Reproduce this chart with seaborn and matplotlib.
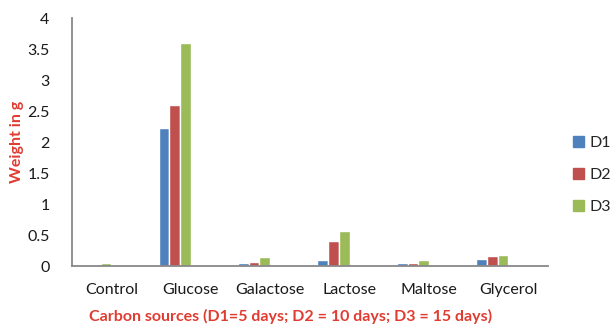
import numpy as np
import pandas as pd
import matplotlib
matplotlib.use('Agg')
import matplotlib.pyplot as plt
import seaborn as sns

sources = ['Control', 'Glucose', 'Galactose', 'Lactose', 'Maltose', 'Glycerol']
d1 = [0.01, 2.22, 0.05, 0.10, 0.05, 0.12]
d2 = [0.02, 2.60, 0.07, 0.40, 0.05, 0.16]
d3 = [0.05, 3.60, 0.14, 0.57, 0.10, 0.18]
series = ['D1', 'D2', 'D3']
colors = ['#4F81BD', '#C0504D', '#9BBB59']

# long table; three empty slots keep the Excel-style left-shifted groups
rows = []
for i, s in enumerate(sources):
    for name, vals in zip(series, [d1, d2, d3]):
        rows.append({'source': s, 'series': name, 'weight': vals[i]})
df = pd.DataFrame(rows)
slots = series + ['e1', 'e2', 'e3']

sns.set_style('white')
plt.rcParams['font.family'] = ['Lato', 'DejaVu Sans']

fig = plt.figure(figsize=(6.13, 3.24), dpi=100)
ax = fig.add_axes([0.117, 0.179, 0.777, 0.765])

pal = dict(zip(slots, colors + ['white'] * 3))
sns.barplot(data=df, x='source', y='weight', hue='series', hue_order=slots,
            order=sources, palette=pal, width=0.81, dodge=True,
            saturation=1, ax=ax, legend=False, errorbar=None)

ax.set_xlim(-0.5, len(sources) - 0.5)
ax.set_ylim(0, 4)
ax.set_yticks(np.arange(0, 4.01, 0.5))
ax.set_yticklabels(['0', '0.5', '1', '1.5', '2', '2.5', '3', '3.5', '4'])
ax.set_xticks(np.arange(-0.5, len(sources), 1), minor=False)
ax.set_xticklabels([])
ax.set_xticks(np.arange(len(sources)), minor=True)
ax.set_xticklabels(sources, minor=True)
ax.tick_params(axis='x', which='major', length=6, width=1.2, color='#888888', direction='out')
ax.tick_params(axis='x', which='minor', length=0, pad=12, labelsize=11.5)
ax.tick_params(axis='y', length=7, width=1.2, color='#888888', direction='out', labelsize=11.5, pad=9)
ax.tick_params(axis='both', which='both', labelcolor='#1a1a1a')

for side in ['top', 'right']:
    ax.spines[side].set_visible(False)
for side in ['left', 'bottom']:
    ax.spines[side].set_color('#888888')
    ax.spines[side].set_linewidth(1.3)

ax.set_xlabel('Carbon sources (D1=5 days; D2 = 10 days; D3 = 15 days)',
              fontsize=11.5, fontweight='bold', color='#E03C31')
ax.xaxis.set_label_coords(0.46, -0.175)
ax.set_ylabel('Weight in g', fontsize=11.5, fontweight='bold', color='#E03C31')
ax.yaxis.set_label_coords(-0.1, 0.5)

handles = [plt.Rectangle((0, 0), 1, 1, color=c) for c in colors]
fig.legend(handles, series, loc='center left', bbox_to_anchor=(0.935, 0.46),
           frameon=False, fontsize=11.5, handlelength=0.7, handleheight=0.7,
           handletextpad=0.35, labelspacing=1.1, borderpad=0, borderaxespad=0)

fig.savefig('out.png', dpi=100)
